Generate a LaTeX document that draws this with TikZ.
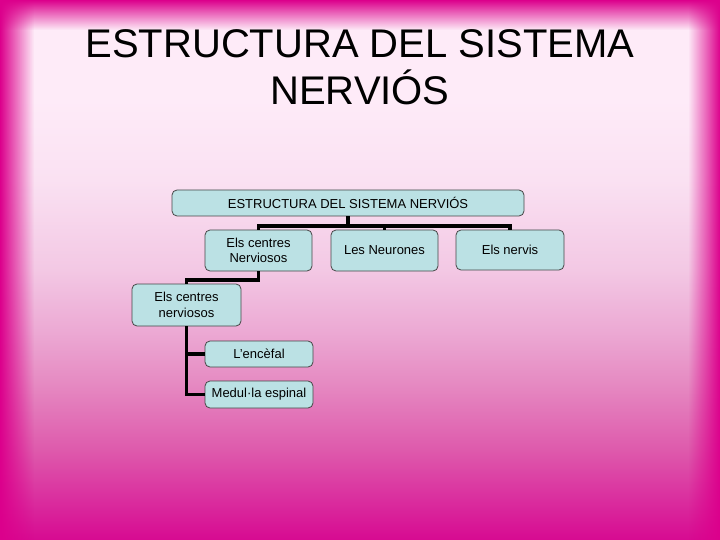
\documentclass[tikz,border=0pt]{standalone}
\usepackage{fontspec}
\setmainfont{Liberation Sans}
\usetikzlibrary{fadings}
\definecolor{s0}{RGB}{215,10,145}
\definecolor{s1}{RGB}{218,45,158}
\definecolor{s2}{RGB}{222,90,172}
\definecolor{s3}{RGB}{230,140,195}
\definecolor{s4}{RGB}{236,170,212}
\definecolor{s5}{RGB}{243,200,228}
\definecolor{s6}{RGB}{250,225,242}
\definecolor{s7}{RGB}{254,235,248}
\definecolor{edge}{RGB}{220,0,140}
\definecolor{boxc}{RGB}{187,225,228}
\definecolor{boxline}{RGB}{70,70,70}
\pgfdeclareverticalshading{bgshade}{100bp}{color(0bp)=(s0); color(25bp)=(s0); color(28.7bp)=(s1); color(33.35bp)=(s2); color(39.8bp)=(s3); color(44.45bp)=(s4); color(50bp)=(s5); color(58.35bp)=(s6); color(65.75bp)=(s7); color(100bp)=(s7)}
\tikzfading[name=fadeR, left color=transparent!0, right color=transparent!100]
\tikzfading[name=fadeL, left color=transparent!100, right color=transparent!0]
\tikzfading[name=fadeD, top color=transparent!0, bottom color=transparent!100]
\tikzset{
  box/.style={draw=boxline, fill=boxc, rounded corners=5pt, line width=0.8pt,
    align=center, inner sep=0pt, font=\fontsize{13}{15.5}\selectfont},
  conn/.style={line width=3.5pt, black},
  titletext/.style={inner sep=0pt, anchor=base, font=\fontsize{40}{46}\selectfont}
}
\begin{document}
\begin{tikzpicture}[x=1pt,y=-1pt]
\useasboundingbox (0,0) rectangle (720,540);
% background
\shade[shading=bgshade] (0,0) rectangle (720,540);
\fill[edge, path fading=fadeR] (0,0) rectangle (34,540);
\fill[edge, path fading=fadeL] (688,0) rectangle (720,540);
\fill[edge, path fading=fadeD] (0,0) rectangle (720,30);
% title
\node[titletext] (t1) at (360,58) {ESTRUCTURA DEL SISTEMA};
\node[titletext] (t2) at (360,105) {NERVIÓS};
% boxes
\node[box, minimum width=352pt, minimum height=26pt] (top) at (348,203) {ESTRUCTURA DEL SISTEMA NERVIÓS};
\node[box, minimum width=107pt, minimum height=41pt] (c1) at (258.5,250.5) {Els centres\\Nerviosos};
\node[box, minimum width=107pt, minimum height=41pt] (neur) at (384.5,250.5) {Les Neurones};
\node[box, minimum width=108pt, minimum height=40pt] (nervis) at (510,250) {Els nervis};
\node[box, minimum width=109pt, minimum height=42pt] (c2) at (186.5,305) {Els centres\\nerviosos};
\node[box, minimum width=108pt, minimum height=26pt] (enc) at (259,354) {L'encèfal};
\node[box, minimum width=108pt, minimum height=27pt] (med) at (259,394.5) {Medul·la espinal};
% connectors
\coordinate (bus) at (0,226);
\coordinate (bus2) at (0,280);
\draw[conn] (top.south) -- (top.south |- bus);
\draw[conn] (c1.north) -- (c1.north |- bus) -| (nervis.north);
\draw[conn] (neur.north) -- (neur.north |- bus);
\draw[conn] (c1.south) -- (c1.south |- bus2) -| (c2.north);
\draw[conn] (c2.south) |- (med.west);
\draw[conn] (c2.south |- enc.west) -- (enc.west);
\end{tikzpicture}
\end{document}
